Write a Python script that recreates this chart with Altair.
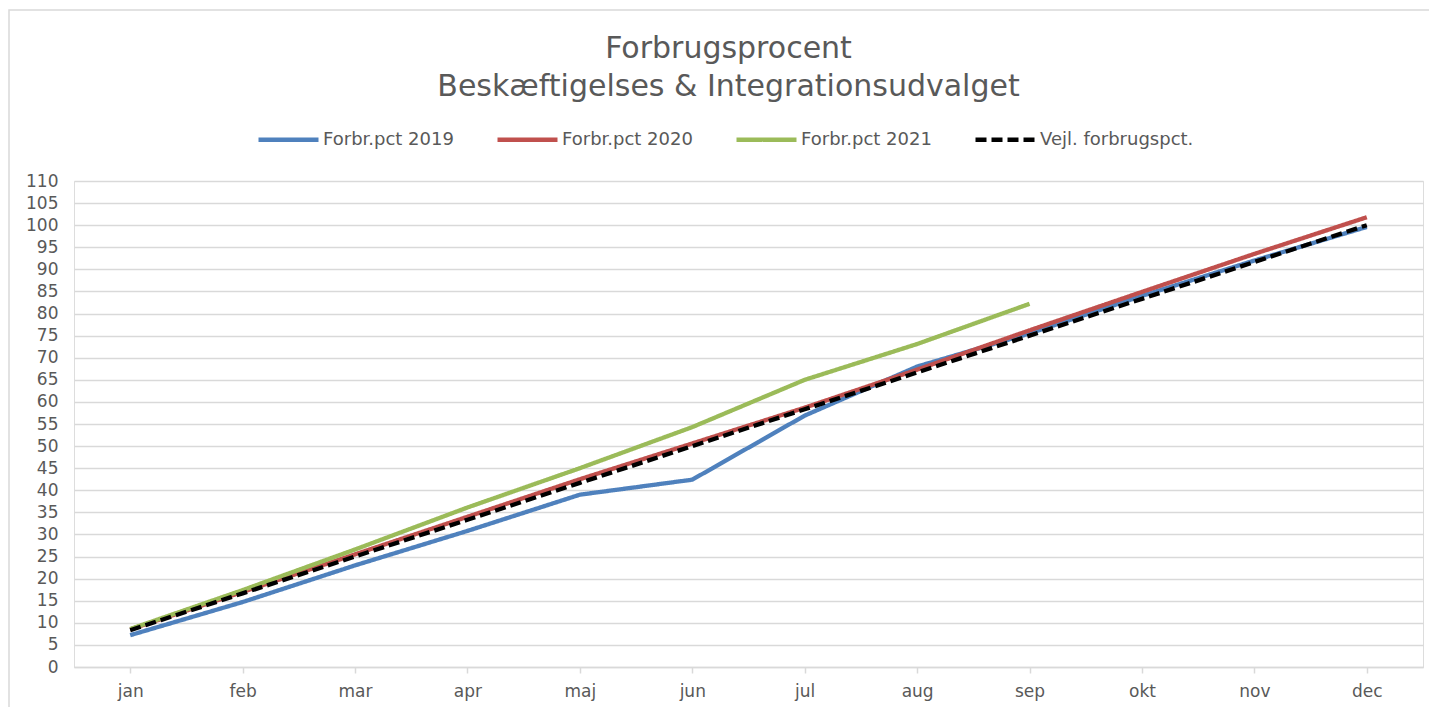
import altair as alt
import pandas as pd

months = ["jan", "feb", "mar", "apr", "maj", "jun", "jul", "aug", "sep", "okt", "nov", "dec"]
series_names = ["Forbr.pct 2019", "Forbr.pct 2020", "Forbr.pct 2021", "Vejl. forbrugspct."]
v2019 = [7.2, 14.7, 23.0, 30.8, 39.0, 42.4, 56.9, 68.0, 75.5, 84.0, 92.0, 99.6]
v2020 = [8.5, 17.0, 25.5, 34.0, 42.5, 50.6, 58.7, 67.3, 76.2, 84.9, 93.5, 101.8]
v2021 = [8.6, 17.4, 26.6, 36.1, 45.0, 54.3, 65.0, 73.1, 82.2]
vejl = [8.33, 16.67, 25.0, 33.33, 41.67, 50.0, 58.33, 66.67, 75.0, 83.33, 91.67, 100.0]
y_ticks = list(range(0, 111, 5))
colors = ["#4F81BD", "#C0504D", "#9BBB59", "#000000"]
dashes = [[1, 0], [1, 0], [1, 0], [11, 5]]

rows = []
for name, vals in zip(series_names, [v2019, v2020, v2021, vejl]):
    for i, v in enumerate(vals):
        rows.append({"maaned": months[i], "serie": name, "vaerdi": v, "ord": series_names.index(name)})
df = pd.DataFrame(rows)

FONT = "DejaVu Sans"
TXT = "#595959"
GRID = "#D9D9D9"

legend = alt.Legend(
    title=None, orient="none", direction="horizontal", legendX=182, legendY=-74,
    symbolType="stroke", symbolSize=3600, symbolStrokeWidth=4.5,
    labelFont=FONT, labelFontSize=18, labelColor=TXT, labelOffset=2,
    columnPadding=34, labelLimit=400,
)

border = alt.Chart(alt.Data(values=[{"a": 1}])).mark_rect(
    fill=None, stroke=GRID, strokeWidth=1.5
).encode(
    x=alt.value(-65), x2=alt.value(1500), y=alt.value(-171), y2=alt.value(700)
)

lines = alt.Chart(df).mark_line(strokeWidth=4.3, strokeCap="butt", strokeJoin="round").encode(
    x=alt.X("maaned:N", sort=months, title=None,
            axis=alt.Axis(labelAngle=0, grid=False, domainColor=GRID, domainWidth=1.5,
                          tickColor=GRID, tickWidth=1.5, tickSize=6, labelPadding=10,
                          labelFont=FONT, labelFontSize=17, labelColor=TXT)),
    y=alt.Y("vaerdi:Q", title=None,
            scale=alt.Scale(domain=[0, 110], nice=False, zero=True),
            axis=alt.Axis(values=y_ticks, domain=False, ticks=False, gridColor=GRID, gridWidth=1.5,
                          labelPadding=16, labelFont=FONT, labelFontSize=17, labelColor=TXT)),
    color=alt.Color("serie:N", sort=series_names,
                    scale=alt.Scale(domain=series_names, range=colors), legend=legend),
    strokeDash=alt.StrokeDash("serie:N", sort=series_names,
                              scale=alt.Scale(domain=series_names, range=dashes), legend=legend),
    order=alt.Order("ord:Q"),
)

chart = alt.layer(border, lines).properties(
    width=1349, height=486,
    autosize=alt.AutoSizeParams(type="none"),
    padding={"left": 66, "top": 173, "right": 6, "bottom": 40},
    title=alt.TitleParams(
        text=["Forbrugsprocent", "Beskæftigelses & Integrationsudvalget"],
        font=FONT, fontSize=30, fontWeight="normal", color=TXT, lineHeight=38,
        anchor="middle", dx=-20, offset=-93,
    ),
).configure_view(stroke=None).configure(background="white")

chart.save("out.html", embed_options={"renderer": "svg", "actions": False})
